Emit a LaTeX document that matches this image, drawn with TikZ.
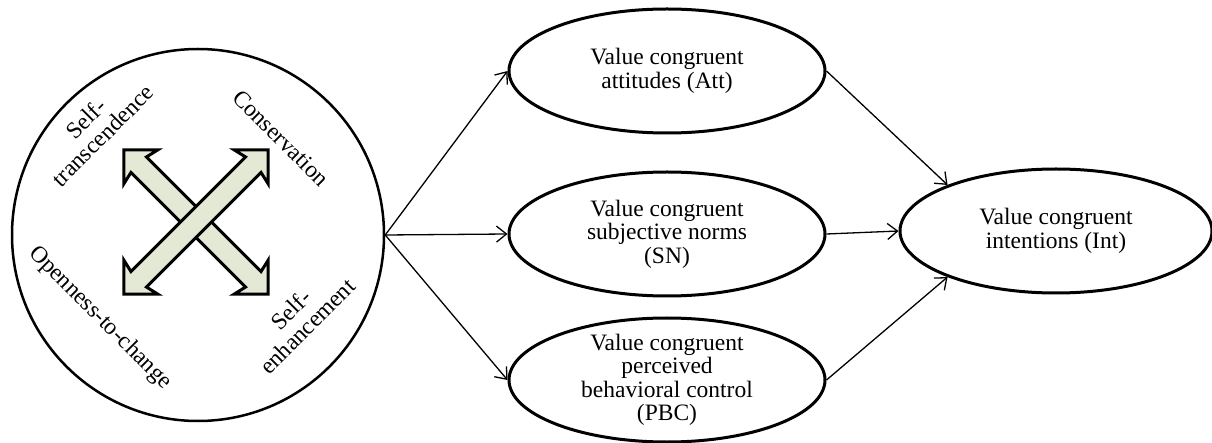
\documentclass[tikz,border=0pt]{standalone}
\usepackage{fontspec}
\setmainfont{Liberation Serif}
\usetikzlibrary{shapes.geometric,arrows.meta}
\begin{document}
\begin{tikzpicture}[x=1pt,y=-1pt,
  txt/.style={font=\fontsize{23.5}{23.5}\selectfont, align=center, inner sep=0},
  oval/.style={ellipse, draw, line width=3pt, minimum width=316pt, minimum height=124pt, inner sep=0},
  conn/.style={line width=1.3pt, -{Straight Barb[length=10pt,width=16pt]}},
  dblarrow/.style={fill=arrowfill, draw=black, line width=3pt, line join=miter}
]
\definecolor{arrowfill}{HTML}{E4E9D6}
\useasboundingbox (0,0) rectangle (1212,443);
% circle
\node[circle, draw, line width=2.5pt, minimum size=372pt, inner sep=0] (c) at (198,235) {};
% crossed double arrows
\def\L{102}\def\h{24}\def\hw{24}\def\sw{11}
\begin{scope}[shift={(196,222)}, rotate=-45]
  \path[dblarrow] (-\L,0) -- (-\L+\h,\hw) -- (-\L+\h-3,\sw) -- (\L-\h+3,\sw) -- (\L-\h,\hw) -- (\L,0)
    -- (\L-\h,-\hw) -- (\L-\h+3,-\sw) -- (-\L+\h-3,-\sw) -- (-\L+\h,-\hw) -- cycle;
\end{scope}
\begin{scope}[shift={(196,222)}, rotate=45]
  \path[dblarrow] (-\L,0) -- (-\L+\h,\hw) -- (-\L+\h-3,\sw) -- (\L-\h+3,\sw) -- (\L-\h,\hw) -- (\L,0)
    -- (\L-\h,-\hw) -- (\L-\h+3,-\sw) -- (-\L+\h-3,-\sw) -- (-\L+\h,-\hw) -- cycle;
\end{scope}
% circle labels
\node[txt, rotate=45] (st) at (94,127) {Self-\\transcendence};
\node[txt, rotate=-45] (cons) at (281,138) {Conservation};
\node[txt, rotate=-45] (open) at (100,318) {Openness-to-change};
\node[txt, rotate=45] (se) at (299,318) {Self-\\enhancement};
% ellipses
\node[oval, label={[txt]center:Value congruent\\attitudes (Att)}] (att) at (667,71) {};
\node[oval, label={[txt]center:Value congruent\\subjective norms\\(SN)}] (sn) at (667,234) {};
\node[oval, label={[txt]center:Value congruent\\perceived\\behavioral control\\(PBC)}] (pbc) at (667,380) {};
\node[oval, minimum width=312pt, label={[txt]center:Value congruent\\intentions (Int)}] (int) at (1056,231) {};
% connectors
\draw[conn] (c.east) -- (att.west);
\draw[conn] (c.east) -- (sn.west);
\draw[conn] (c.east) -- (pbc.west);
\draw[conn] (att.east) -- (int.157);
\draw[conn] (sn.east) -- (int.west);
\draw[conn] (pbc.east) -- (int.203);
\end{tikzpicture}
\end{document}
